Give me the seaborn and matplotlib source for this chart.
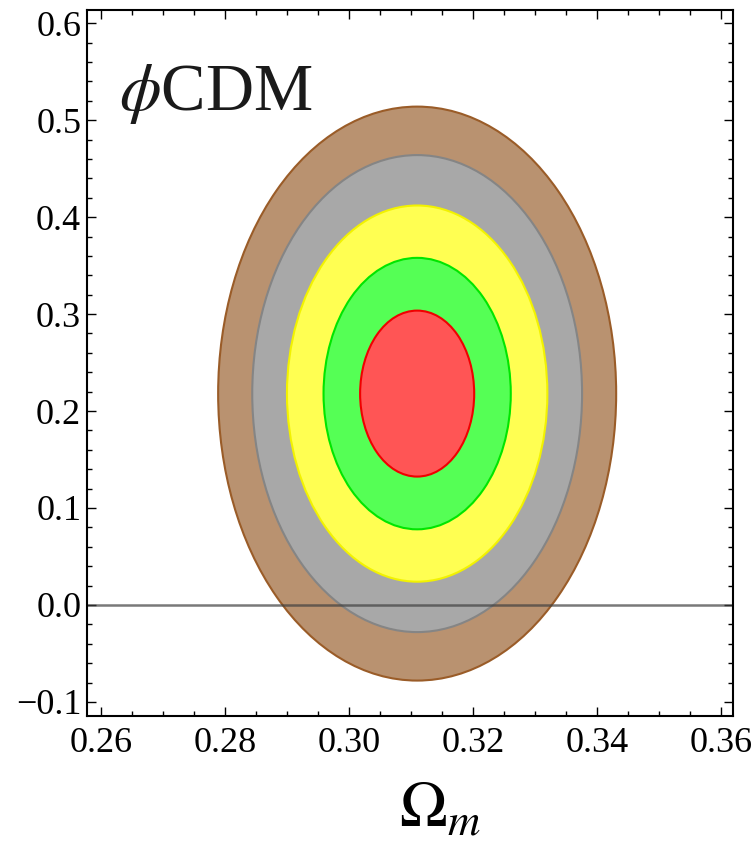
import matplotlib
matplotlib.use("Agg")
import matplotlib.pyplot as plt
import seaborn as sns
from matplotlib.patches import Ellipse
from matplotlib.ticker import MultipleLocator, FuncFormatter

# Best-fit point and contour half-axes (outermost first)
center_om = 0.311
center_y = 0.218
half_width = [0.0321, 0.0266, 0.0210, 0.0151, 0.0092]
half_height = [0.296, 0.246, 0.194, 0.140, 0.0856]
fill_colors = ['#B99270', '#A8A8A8', '#FFFF52', '#55FF55', '#FF5555']
edge_colors = ['#9A5C28', '#858585', '#F2F200', '#00E600', '#F00000']

x_ticks = [0.26, 0.28, 0.30, 0.32, 0.34, 0.36]
y_ticks = [-0.1, 0.0, 0.1, 0.2, 0.3, 0.4, 0.5, 0.6]

sns.set_theme(style='ticks')
plt.rcParams['font.family'] = ['Liberation Serif', 'DejaVu Serif']
plt.rcParams['mathtext.fontset'] = 'stix'
plt.rcParams['text.color'] = 'black'
plt.rcParams['xtick.labelcolor'] = 'black'
plt.rcParams['ytick.labelcolor'] = 'black'

fig = plt.figure(figsize=(7.54, 8.43), dpi=100)
ax = fig.add_axes([0.115, 0.1507, 0.8576, 0.8375])

for hw, hh, fc, ec in zip(half_width, half_height, fill_colors, edge_colors):
    ax.add_patch(Ellipse((center_om, center_y), 2 * hw, 2 * hh,
                         facecolor=fc, edgecolor=ec, linewidth=1.5))

ax.axhline(0.0, color='#404040', alpha=0.7, linewidth=1.8)

ax.set_xlim(0.2577, 0.3620)
ax.set_ylim(-0.1145, 0.6137)

ax.set_xticks(x_ticks)
ax.set_yticks(y_ticks)
ax.xaxis.set_minor_locator(MultipleLocator(0.005))
ax.yaxis.set_minor_locator(MultipleLocator(0.02))
ax.xaxis.set_major_formatter(FuncFormatter(lambda v, p: f'{round(v, 2) + 0:.2f}'))
ax.yaxis.set_major_formatter(
    FuncFormatter(lambda v, p: f'{round(v, 1) + 0:.1f}'.replace('-', '\u2212')))

ax.tick_params(which='both', direction='in', top=True, right=True,
               color='black', labelcolor='black', width=1.0)
ax.tick_params(which='major', length=6.5, labelsize=26)
ax.tick_params(which='minor', length=3.5)
ax.tick_params(axis='x', which='major', pad=8)
ax.tick_params(axis='y', which='major', pad=4)

for s in ax.spines.values():
    s.set_linewidth(1.5)
    s.set_color('black')

ax.text(0.05, 0.858, r'$\phi$CDM', transform=ax.transAxes, fontsize=48,
        ha='left', va='baseline', color='#1a1a1a')

ax.set_xlabel(r'$\Omega_m$', fontsize=46, color='black')
ax.xaxis.set_label_coords(0.546, -0.095)

fig.savefig('out.png', dpi=100)
